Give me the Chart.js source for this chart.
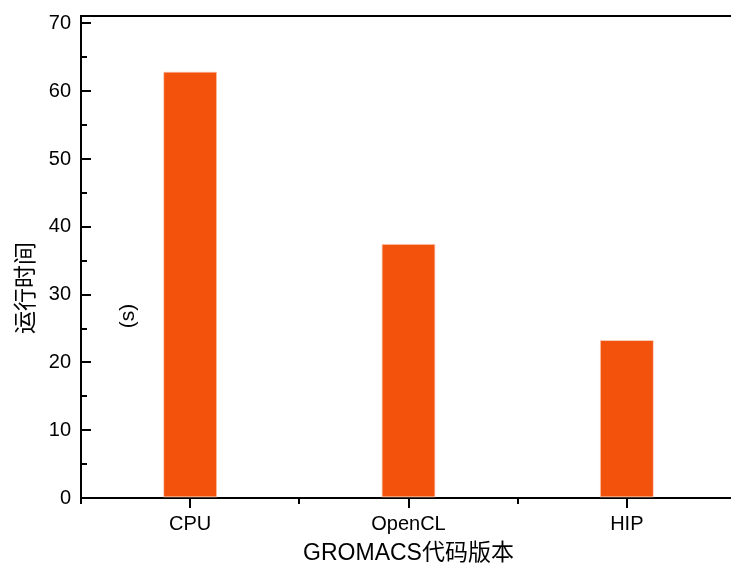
<!DOCTYPE html>
<html><head><meta charset="utf-8">
<script src="https://cdn.jsdelivr.net/npm/chart.js@4/dist/chart.umd.min.js"></script>
<style>html,body{margin:0;padding:0;background:#fff;overflow:hidden;width:731px;height:570px}</style>
</head><body>
<canvas id="c" width="740" height="570" style="display:block"></canvas>
<script>
const categories = ['CPU', 'OpenCL', 'HIP'];
const runTimes = [62.9, 37.5, 23.3];
const yTickValues = [0, 10, 20, 30, 40, 50, 60, 70];
const yMinorValues = [5, 15, 25, 35, 45, 55, 65];
const yTitle = '运行时间';
const yUnit = '(s)';
const xTitle = 'GROMACS代码版本';

const FONT = "'Liberation Sans', 'Noto Sans CJK SC', Arial, sans-serif";

const framePlugin = {
  id: 'frame',
  afterDraw(chart) {
    const ctx = chart.ctx;
    const a = chart.chartArea;
    const xs = chart.scales.x, ys = chart.scales.y;
    ctx.save();
    ctx.strokeStyle = '#000';
    ctx.lineWidth = 2;
    ctx.beginPath();
    // top frame
    ctx.moveTo(a.left - 1, a.top);
    ctx.lineTo(a.right, a.top);
    // y ticks inward
    yTickValues.forEach(v => {
      const y = Math.round(ys.getPixelForValue(v));
      ctx.moveTo(a.left, y); ctx.lineTo(a.left + 10, y);
    });
    yMinorValues.forEach(v => {
      const y = Math.round(ys.getPixelForValue(v));
      ctx.moveTo(a.left, y); ctx.lineTo(a.left + 6, y);
    });
    // x minor ticks at category boundaries
    const half = (xs.getPixelForValue(1) - xs.getPixelForValue(0)) / 2;
    for (let i = 0; i <= categories.length; i++) {
      const x = Math.round(xs.getPixelForValue(i) - half);
      ctx.moveTo(x, a.bottom); ctx.lineTo(x, a.bottom + 6);
    }
    ctx.stroke();
    // y titles
    ctx.fillStyle = '#000';
    ctx.textAlign = 'center';
    ctx.textBaseline = 'middle';
    ctx.save();
    ctx.translate(27, 288);
    ctx.rotate(-Math.PI / 2);
    ctx.font = '23px ' + FONT;
    ctx.fillText(yTitle, 0, 0);
    ctx.restore();
    ctx.save();
    ctx.translate(128, 316);
    ctx.rotate(-Math.PI / 2);
    ctx.font = '21px ' + FONT;
    ctx.fillText(yUnit, 0, 0);
    ctx.restore();
    ctx.restore();
  }
};

new Chart(document.getElementById('c'), {
  type: 'bar',
  data: {
    labels: categories,
    datasets: [{
      data: runTimes,
      backgroundColor: '#F2520B',
      borderColor: '#FBCDB8',
      borderWidth: 1,
      borderSkipped: false,
      categoryPercentage: 1,
      barPercentage: 0.248
    }]
  },
  options: {
    responsive: false,
    animation: false,
    devicePixelRatio: 1,
    layout: { padding: { left: 0, right: 4, top: 16, bottom: 0 } },
    plugins: { legend: { display: false }, tooltip: { enabled: false } },
    scales: {
      x: {
        offset: true,
        grid: { display: true, drawOnChartArea: false, drawTicks: true, tickLength: 10, offset: false, color: '#000', lineWidth: 2 },
        border: { display: true, color: '#000', width: 2 },
        ticks: { color: '#000', padding: 4, font: { family: FONT, size: 20 } },
        title: { display: true, text: xTitle, color: '#000', font: { family: FONT, size: 23 }, padding: { top: 0, bottom: 3 } },
        afterFit(s) { s.height = 72; s.paddingLeft = 0; s.paddingRight = 0; }
      },
      y: {
        min: 0,
        max: 71.1,
        afterBuildTicks(s) { s.ticks = yTickValues.map(v => ({ value: v })); },
        grid: { display: true, drawOnChartArea: false, drawTicks: false },
        border: { display: true, color: '#000', width: 2 },
        ticks: { color: '#000', padding: 10, font: { family: FONT, size: 20 } },
        afterFit(s) { s.width = 81; s.paddingTop = 0; s.paddingBottom = 0; }
      }
    }
  },
  plugins: [framePlugin]
});
</script>
</body></html>
